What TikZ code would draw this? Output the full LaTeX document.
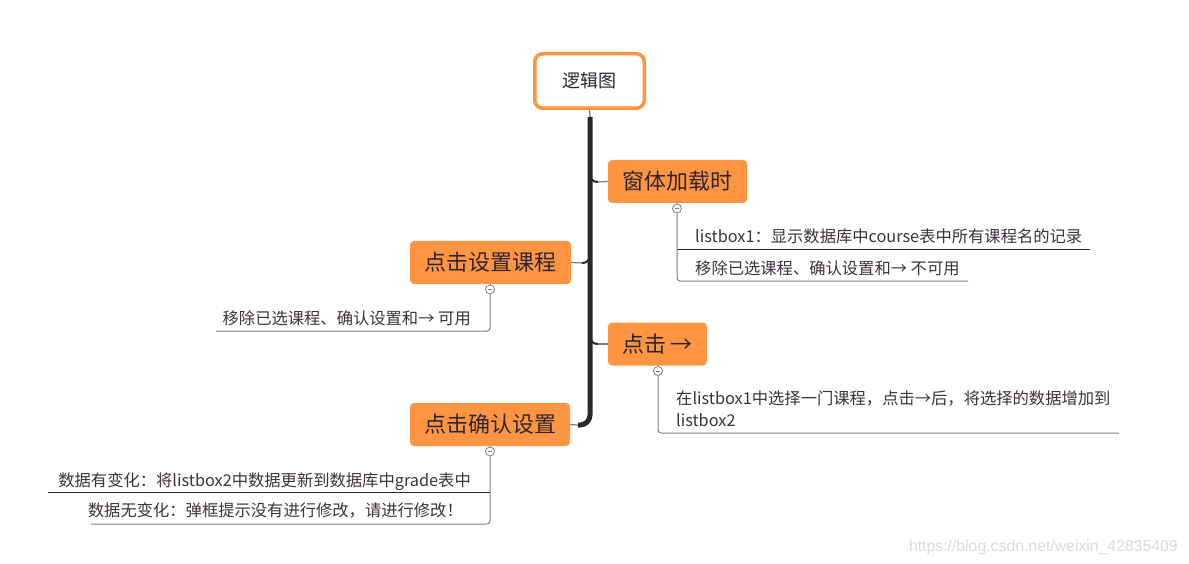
\documentclass[tikz,border=0pt]{standalone}
\usepackage{fontspec}
\setmainfont{Noto Sans CJK SC}
\newfontfamily\wmfont{Liberation Sans}
\definecolor{orng}{RGB}{255,149,67}
\definecolor{ink}{RGB}{45,38,48}
\definecolor{leafgray}{RGB}{130,125,132}
\definecolor{txt}{RGB}{60,52,60}
\tikzset{
  rootbox/.style={draw=orng, line width=3.5pt, fill=white, rounded corners=8pt, minimum width=109.5pt, minimum height=54.5pt, font=\fontsize{18}{21}\selectfont, text=ink, inner sep=0pt},
  topic/.style={fill=orng, rounded corners=4pt, minimum height=43pt, font=\fontsize{22}{26}\selectfont, text=ink, inner sep=0pt},
  collapse/.style={circle, draw=leafgray, fill=white, line width=0.8pt, minimum size=9pt, inner sep=0pt,
    path picture={\draw[leafgray,line width=.6pt] ([xshift=-2.2pt]path picture bounding box.center) -- ([xshift=2.2pt]path picture bounding box.center);}},
  leaf/.style={draw=leafgray, line width=1pt},
  leafdark/.style={draw=ink, line width=1pt},
  trunk/.style={draw=ink, line width=5pt},
  stub/.style={draw=ink, line width=2pt},
  conn/.style={draw=leafgray, line width=1.2pt},
  lbl/.style={font=\fontsize{16.3}{22}\selectfont, text=txt, inner sep=0pt},
}
\begin{document}
\begin{tikzpicture}[x=1pt,y=-1pt]
\useasboundingbox[fill=white] (0,0) rectangle (1189,564);

% main nodes
\node[rootbox] (root) at (589.5,81) {逻辑图};
\node[topic, minimum width=139pt] (t1) at (677.5,181.5) {窗体加载时};
\node[topic, minimum width=161pt] (t2) at (490.5,262.5) {点击设置课程};
\node[topic, minimum width=99pt] (t3) at (657.5,344) {点击 →};
\node[topic, minimum width=160pt] (t4) at (490,424.5) {点击确认设置};

% trunk
\coordinate (trTop) at (590,117);
\coordinate (trBot) at (590,425);
\coordinate (trEnd) at (578,425);
\draw[conn] (root.south) -- (trTop);
\draw[trunk, rounded corners=10pt] (trTop) -- (trBot) -- (trEnd);
\draw[conn] (trEnd) -- (t4.east);

% stubs
\coordinate (s1a) at (590,170);
\coordinate (s1b) at (598,182);
\draw[stub] (s1a) .. controls (590,179) and (592,182) .. (s1b);
\draw[conn] (s1b) -- (t1.west);
\coordinate (s2a) at (590,251);
\coordinate (s2b) at (582,263);
\draw[stub] (s2a) .. controls (590,260) and (588,263) .. (s2b);
\draw[conn] (s2b) -- (t2.east);
\coordinate (s3a) at (590,332);
\coordinate (s3b) at (598,344);
\draw[stub] (s3a) .. controls (590,341) and (592,344) .. (s3b);
\draw[conn] (s3b) -- (t3.west);

% collapse markers
\node[collapse] (c1) at (677,208.5) {};
\node[collapse] (c2) at (490,289.5) {};
\node[collapse] (c3) at (658,371) {};
\node[collapse] (c4) at (490,451.5) {};
\draw[leaf] (t1.south) -- (c1.north);
\draw[leaf] (t2.south) -- (c2.north);
\draw[leaf] (t3.south) -- (c3.north);
\draw[leaf] (t4.south) -- (c4.north);

% t1 children
\coordinate (l11s) at (677,250);
\coordinate (l11e) at (1090,250);
\coordinate (l12e) at (968,281);
\draw[leafdark] (l11s) -- (l11e);
\draw[leaf, rounded corners=3pt] (c1.south) |- (l12e);
\node[lbl, anchor=base west] (l11) at (695,243) {listbox1：显示数据库中course表中所有课程名的记录};
\node[lbl, anchor=base west] (l12) at (695,274) {移除已选课程、确认设置和→ 不可用};

% t2 child
\coordinate (l21e) at (216,331);
\draw[leaf, rounded corners=3pt] (c2.south) |- (l21e);
\node[lbl, anchor=base east] (l21) at (471,324) {移除已选课程、确认设置和→ 可用};

% t3 child
\coordinate (l31e) at (1119,433);
\draw[leaf, rounded corners=3pt] (c3.south) |- (l31e);
\node[lbl, anchor=base west] (l31a) at (676,404) {在listbox1中选择一门课程，点击→后，将选择的数据增加到};
\node[lbl, anchor=base west] (l31b) at (676,426) {listbox2};

% t4 children
\coordinate (l41s) at (490,492);
\coordinate (l41e) at (48,492);
\coordinate (l42e) at (91,524);
\draw[leafdark] (l41s) -- (l41e);
\draw[leaf, rounded corners=3pt] (c4.south) |- (l42e);
\node[lbl, anchor=base east] (l41) at (471,486) {数据有变化：将listbox2中数据更新到数据库中grade表中};
\node[lbl, anchor=base east] (l42) at (463,516) {数据无变化：弹框提示没有进行修改，请进行修改！};

% watermark
\node[font=\wmfont\fontsize{15.8}{18}\selectfont, text=black!14, anchor=base east, inner sep=0pt] (wm) at (1178,551) {https://blog.csdn.net/weixin\_42835409};
\end{tikzpicture}
\end{document}
